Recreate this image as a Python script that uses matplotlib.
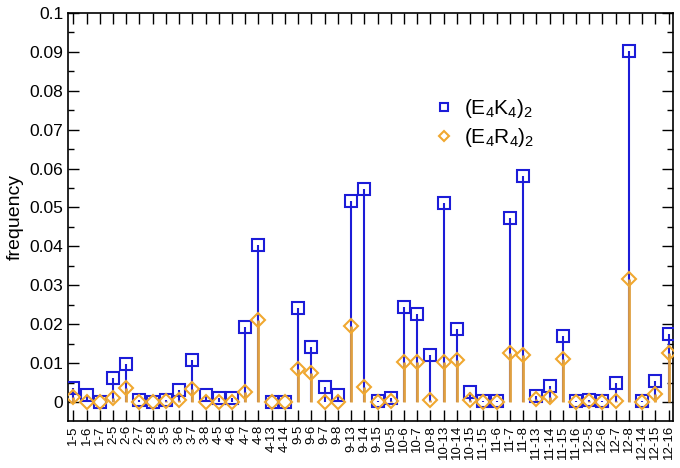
import matplotlib
matplotlib.use("Agg")
import matplotlib.pyplot as plt
import numpy as np
from matplotlib.ticker import MultipleLocator

plt.rcParams['font.family'] = ['Liberation Sans', 'DejaVu Sans']
plt.rcParams['mathtext.fontset'] = 'custom'
plt.rcParams['mathtext.rm'] = 'Liberation Sans'
plt.rcParams['mathtext.it'] = 'Liberation Sans'
plt.rcParams['mathtext.default'] = 'regular'

categories = ["1-5", "1-6", "1-7", "2-5", "2-6", "2-7", "2-8", "3-5", "3-6", "3-7",
              "3-8", "4-5", "4-6", "4-7", "4-8", "4-13", "4-14", "9-5", "9-6", "9-7",
              "9-8", "9-13", "9-14", "9-15", "10-5", "10-6", "10-7", "10-8", "10-13",
              "10-14", "10-15", "11-15", "11-6", "11-7", "11-8", "11-13", "11-14",
              "11-15", "11-16", "12-5", "12-6", "12-7", "12-8", "12-14", "12-15", "12-16"]

e4k4 = [0.0035, 0.0018, 0.0, 0.0062, 0.0097, 0.0005, 0.0, 0.0004, 0.0031, 0.0108,
        0.0018, 0.0010, 0.0009, 0.0193, 0.0404, 0.0, 0.0, 0.0241, 0.0142, 0.0038,
        0.0018, 0.0516, 0.0548, 0.0003, 0.0009, 0.0243, 0.0227, 0.0120, 0.0512,
        0.0187, 0.0026, 0.0002, 0.0002, 0.0473, 0.0582, 0.0015, 0.0041,
        0.0170, 0.0002, 0.0005, 0.0002, 0.0050, 0.0903, 0.0002, 0.0054, 0.0176]

e4r4 = [0.0012, 0.0, 0.0, 0.0010, 0.0037, 0.0, 0.0, 0.0003, 0.0005, 0.0033,
        0.0, 0.0, 0.0, 0.0026, 0.0210, 0.0, 0.0, 0.0085, 0.0075, 0.0,
        0.0, 0.0196, 0.0038, 0.0, 0.0003, 0.0103, 0.0102, 0.0005, 0.0103,
        0.0108, 0.0005, 0.0, 0.0, 0.0127, 0.0122, 0.0007, 0.0014,
        0.0110, 0.0, 0.0003, 0.0, 0.0002, 0.0315, 0.0, 0.0020, 0.0127]

blue = '#1c1cd8'
orange = '#f0a830'
stem_orange = '#e0a040'

fig = plt.figure(figsize=(6.8, 4.68), dpi=100)
ax = fig.add_axes([0.1, 0.1004, 0.89, 0.8718])

x = np.arange(len(categories))
ax.vlines(x, 0, e4k4, color=blue, lw=1.5, zorder=2)
ax.vlines(x, 0, e4r4, color=stem_orange, lw=2.0, zorder=3)
ax.plot(x, e4k4, ls='none', marker='s', ms=8.0, mfc='none', mec=blue, mew=1.5,
        zorder=4, label=r'$(E_4K_4)_2$')
ax.plot(x, e4r4, ls='none', marker='D', ms=7.2, mfc='none', mec=orange, mew=1.5,
        zorder=5, label=r'$(E_4R_4)_2$')

ax.set_xlim(-0.4, 45.35)
ax.set_ylim(-0.0049, 0.1)
ax.set_xticks(x)
ax.set_xticklabels(categories, rotation=90, fontsize=9.5)
ax.yaxis.set_minor_locator(MultipleLocator(0.005))
ax.set_yticks(np.arange(0, 0.1001, 0.01))
ax.set_yticklabels(['0'] + ['%g' % v for v in np.arange(0.01, 0.1001, 0.01).round(2)], fontsize=12.5)
ax.tick_params(axis='both', which='major', direction='in', length=8, width=1,
               top=True, right=True)
ax.tick_params(axis='y', which='minor', direction='in', length=4, width=1, right=True, left=True)
ax.tick_params(axis='x', which='major', pad=3)
ax.set_ylabel('frequency', fontsize=14, labelpad=4)
for s in ax.spines.values():
    s.set_linewidth(1.2)

leg = ax.legend(loc='upper left', bbox_to_anchor=(0.58, 0.83), frameon=False,
                fontsize=15, handlelength=1.0, handletextpad=0.45, labelspacing=0.3,
                borderpad=0.2, markerscale=0.75)

fig.savefig('out.png', dpi=100)
